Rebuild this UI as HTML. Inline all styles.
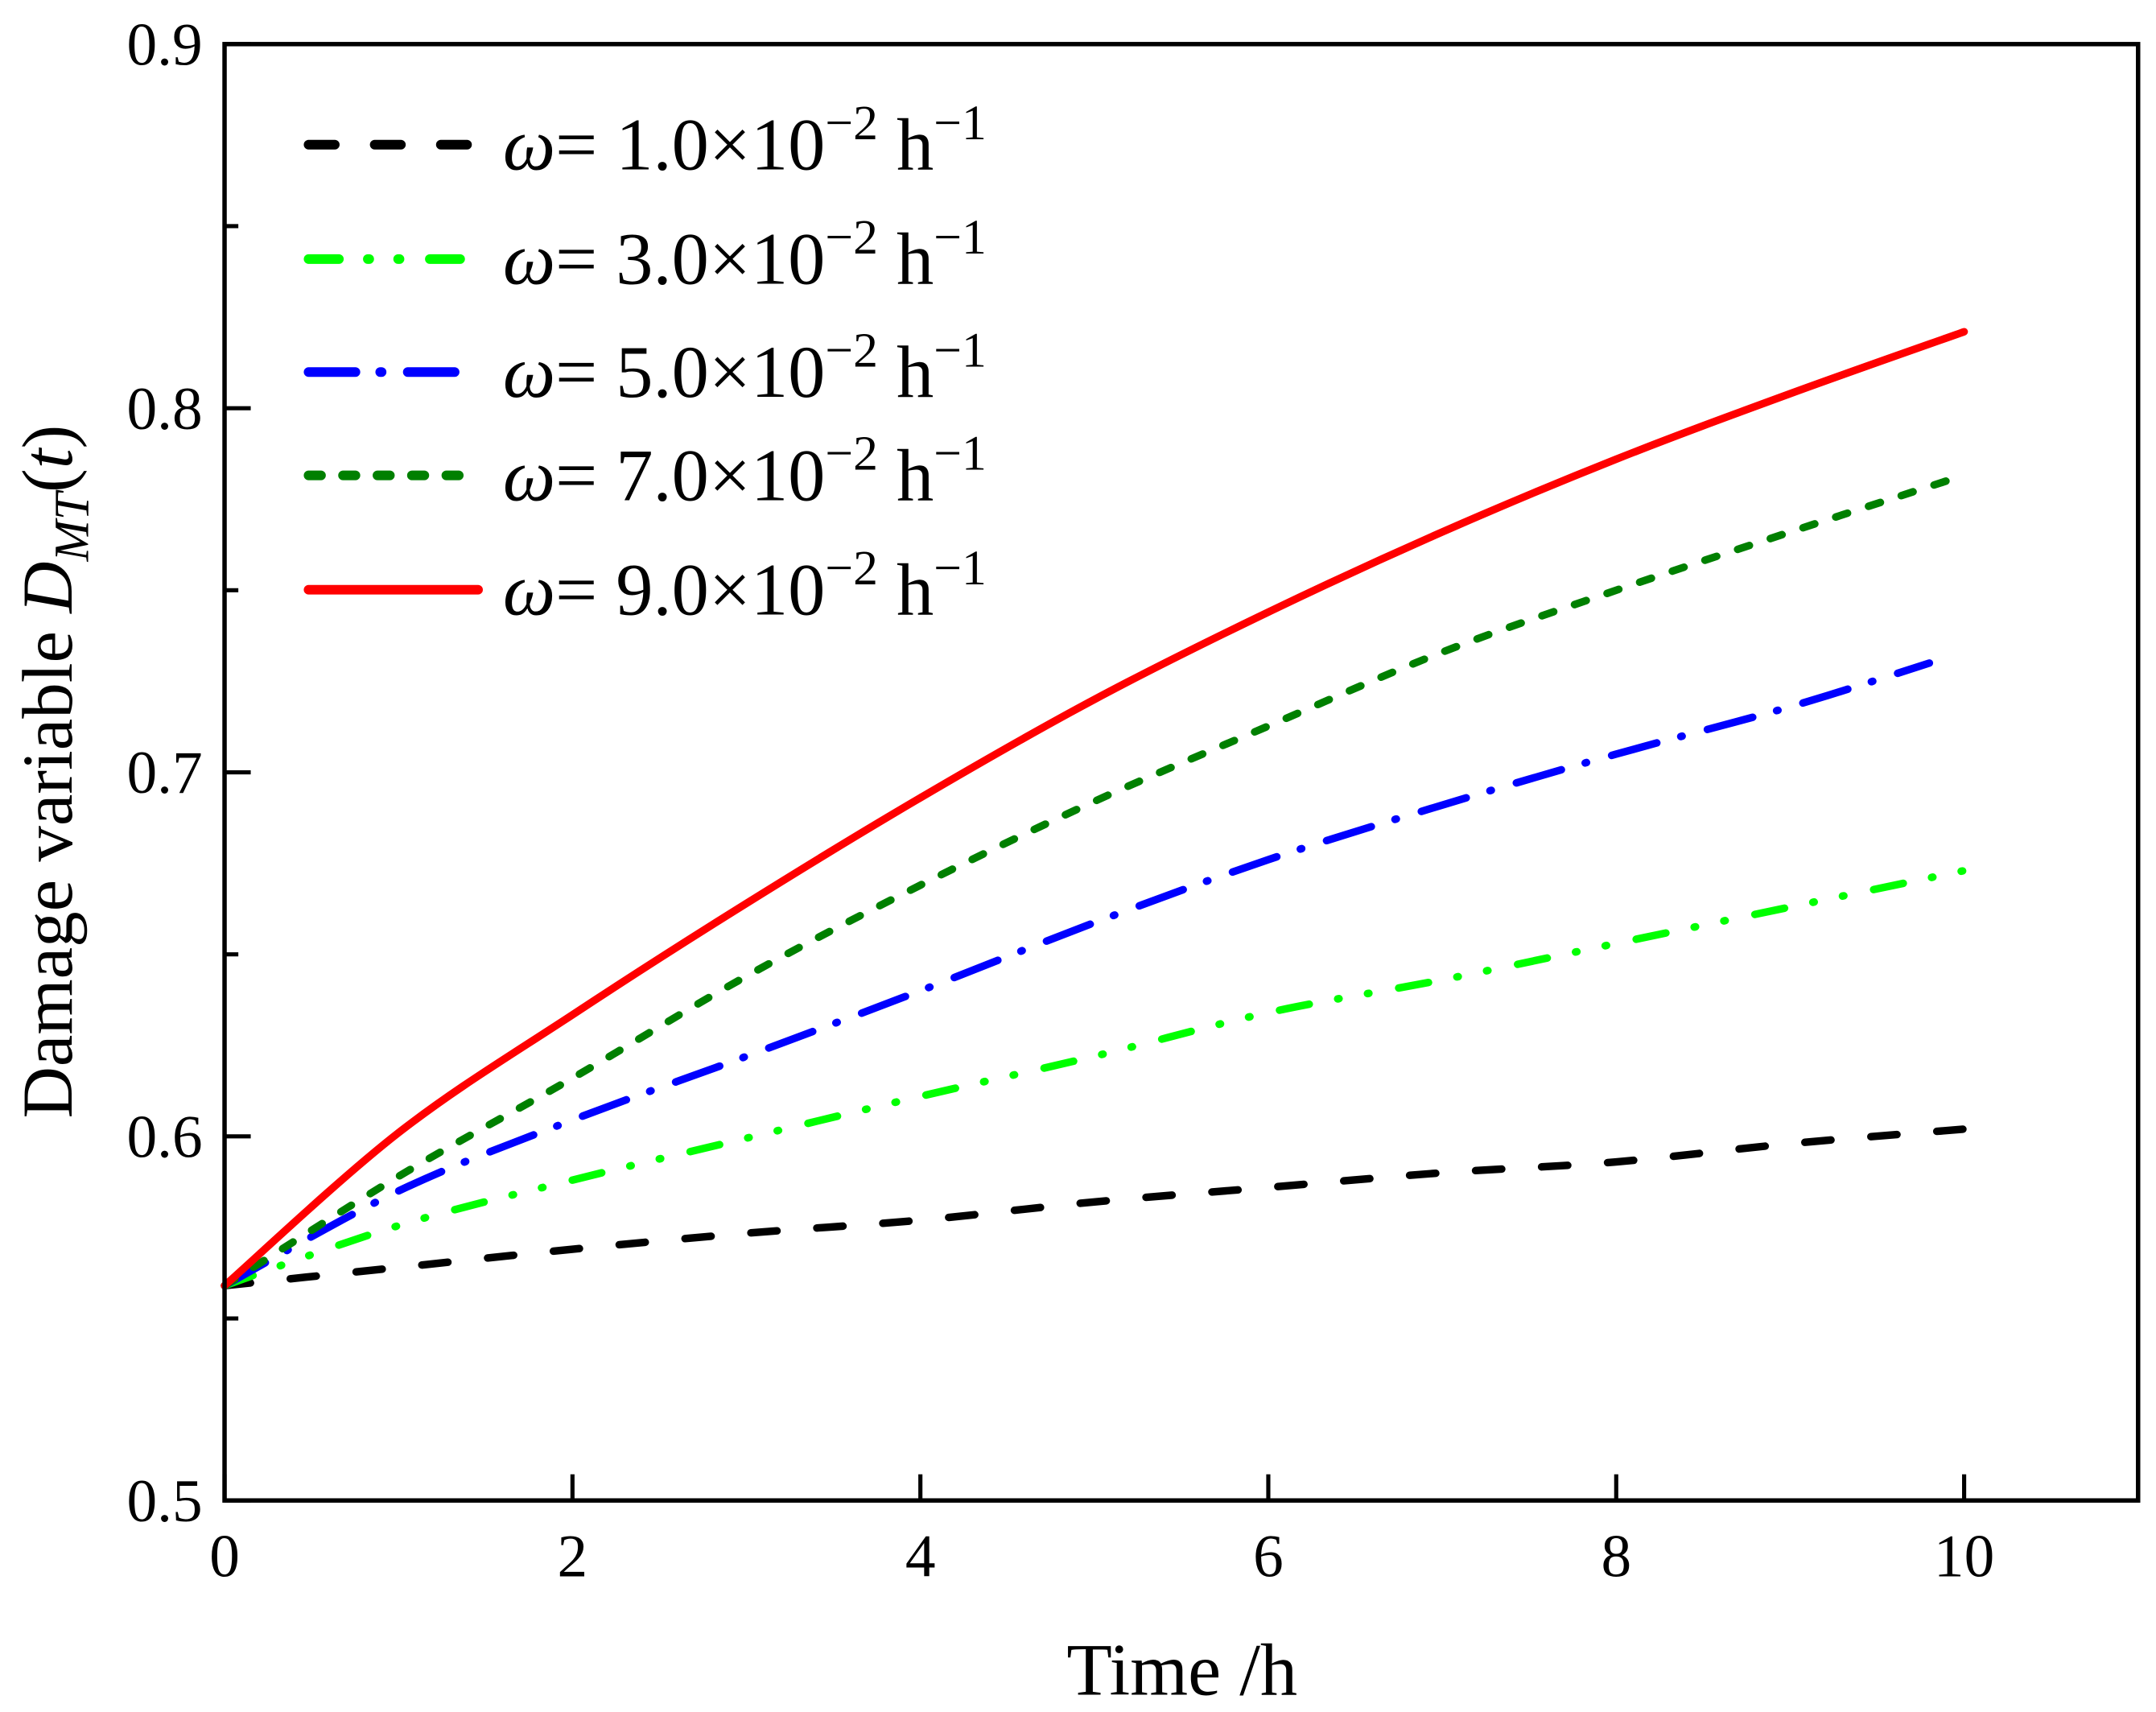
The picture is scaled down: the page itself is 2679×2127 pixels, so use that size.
<!DOCTYPE html>
<html><head><meta charset="utf-8"><style>
html,body{margin:0;padding:0;background:#fff;}
svg{display:block;}
svg text{font-family:"Liberation Serif","Times New Roman",serif;}
</style></head><body>
<svg id="chart" width="2679" height="2127" viewBox="0 0 1565 1242.5" xmlns="http://www.w3.org/2000/svg" font-family="Liberation Serif, serif">
<g id="marks"></g>
<g id="axes"></g>
<g id="legend"></g>
<text x="858" y="1230" font-size="54" text-anchor="middle" font-family="Liberation Serif, serif">Time /h</text>
<text transform="translate(52,560) rotate(-90)" font-size="52" text-anchor="middle" font-family="Liberation Serif, serif">Damage variable <tspan font-style="italic">D</tspan><tspan font-style="italic" font-size="36" dy="12">MT</tspan><tspan dy="-12">(</tspan><tspan font-style="italic">t</tspan>)</text>
</svg>
<script>
const tVals = [0,1,2,3,4,5,6,7,8,9,10];
const tValsBlue = [0,1,2,3,4,5,6,7,8,9,9.8];
const dW1 = [0.559,0.564,0.569,0.5734,0.577,0.582,0.586,0.590,0.593,0.598,0.602];
const dW3 = [0.559,0.5755,0.588,0.5995,0.611,0.622,0.634,0.643,0.653,0.663,0.673];
const dW5 = [0.559,0.585,0.6045,0.622,0.640,0.6587,0.676,0.691,0.705,0.718,0.730];
const dW7 = [0.559,0.589,0.616,0.644,0.669,0.692,0.7127,0.733,0.750,0.766,0.7816];
const dW9 = [0.559,0.601,0.6334,0.664,0.693,0.720,0.744,0.766,0.786,0.804,0.821];
const xTicks = [0,2,4,6,8,10];
const yTicks = [0.5,0.6,0.7,0.8,0.9];
const yMinor = [0.55,0.65,0.75,0.85];
const legendLabels = ["1.0","3.0","5.0","7.0","9.0"];

const NS="http://www.w3.org/2000/svg";
const L=163,R=1552,T=32,B=1089;
const sx=v=>L+(v-0)/(11-0)*(R-L);
const sy=v=>B-(v-0.5)/(0.9-0.5)*(B-T);
function mk(tag,attrs,parent){const e=document.createElementNS(NS,tag);for(const k in attrs)e.setAttribute(k,attrs[k]);parent.appendChild(e);return e;}
const marks=document.getElementById('marks'),axes=document.getElementById('axes'),legend=document.getElementById('legend');
const FF="Liberation Serif, serif";
const series=[
 {xs:tVals,ys:dW1,c:"#000000",d:"19 29",n:"series-w1"},
 {xs:tVals,ys:dW3,c:"#00ff00",d:"22 21 1 21 1 22",n:"series-w3"},
 {xs:tValsBlue,ys:dW5,c:"#0000ff",d:"34 18 1 19",n:"series-w5"},
 {xs:tVals,ys:dW7,c:"#008000",d:"9 16",n:"series-w7"},
 {xs:tVals,ys:dW9,c:"#ff0000",d:"none",n:"series-w9"}
];
function smoothPath(xs,ys){
  const p=xs.map((x,i)=>[sx(x),sy(ys[i])]);
  let d="M"+p[0][0]+","+p[0][1];
  for(let i=0;i<p.length-1;i++){
    const p0=p[i-1]||p[i],p1=p[i],p2=p[i+1],p3=p[i+2]||p2;
    const c1=[p1[0]+(p2[0]-p0[0])/6,p1[1]+(p2[1]-p0[1])/6];
    const c2=[p2[0]-(p3[0]-p1[0])/6,p2[1]-(p3[1]-p1[1])/6];
    d+=" C"+c1[0]+","+c1[1]+" "+c2[0]+","+c2[1]+" "+p2[0]+","+p2[1];
  }
  return d;
}
series.forEach(s=>{
  const e=mk('path',{d:smoothPath(s.xs,s.ys),fill:"none",stroke:s.c,"stroke-width":5.5,"stroke-dasharray":s.d,"stroke-linecap":"round","stroke-linejoin":"round"},marks);
  
  
});
const fr=mk('rect',{x:L,y:T,width:R-L,height:B-T,fill:"none",stroke:"#000","stroke-width":3.2},axes);


xTicks.forEach(v=>{
  const x=sx(v);
  const tk=mk('line',{x1:x,x2:x,y1:B,y2:B-19,stroke:"#000","stroke-width":3},axes);
  
  
  const tx=mk('text',{x:x,y:B+55,"font-size":44,"text-anchor":"middle","font-family":FF},axes);
  tx.textContent=v;
  
  
});
yTicks.forEach(v=>{
  const y=sy(v);
  const tk=mk('line',{x1:L,x2:L+19,y1:y,y2:y,stroke:"#000","stroke-width":3},axes);
  
  
  const tx=mk('text',{x:L-16,y:y+15,"font-size":44,"text-anchor":"end","font-family":FF},axes);
  tx.textContent=v.toFixed(1);
  
  
});
yMinor.forEach(v=>{
  const y=sy(v);
  const tk=mk('line',{x1:L,x2:L+10,y1:y,y2:y,stroke:"#000","stroke-width":3},axes);
  
  
});
const legY=[105,188,270,345,428];
series.forEach((s,i)=>{
  const y=legY[i];
  const ln=mk('line',{x1:224,x2:347,y1:y,y2:y,stroke:s.c,"stroke-width":7,"stroke-dasharray":s.d,"stroke-linecap":"round"},legend);
  
  
  const tx=mk('text',{x:365,y:y+18,"font-size":54,"font-family":FF},legend);
  
  
  tx.innerHTML='<tspan font-style="italic">ω</tspan>= '+legendLabels[i]+'×10<tspan font-size="36" dy="-22">−2</tspan><tspan dy="22"> h</tspan><tspan font-size="36" dy="-22">−1</tspan>';
});
</script>
</body></html>
